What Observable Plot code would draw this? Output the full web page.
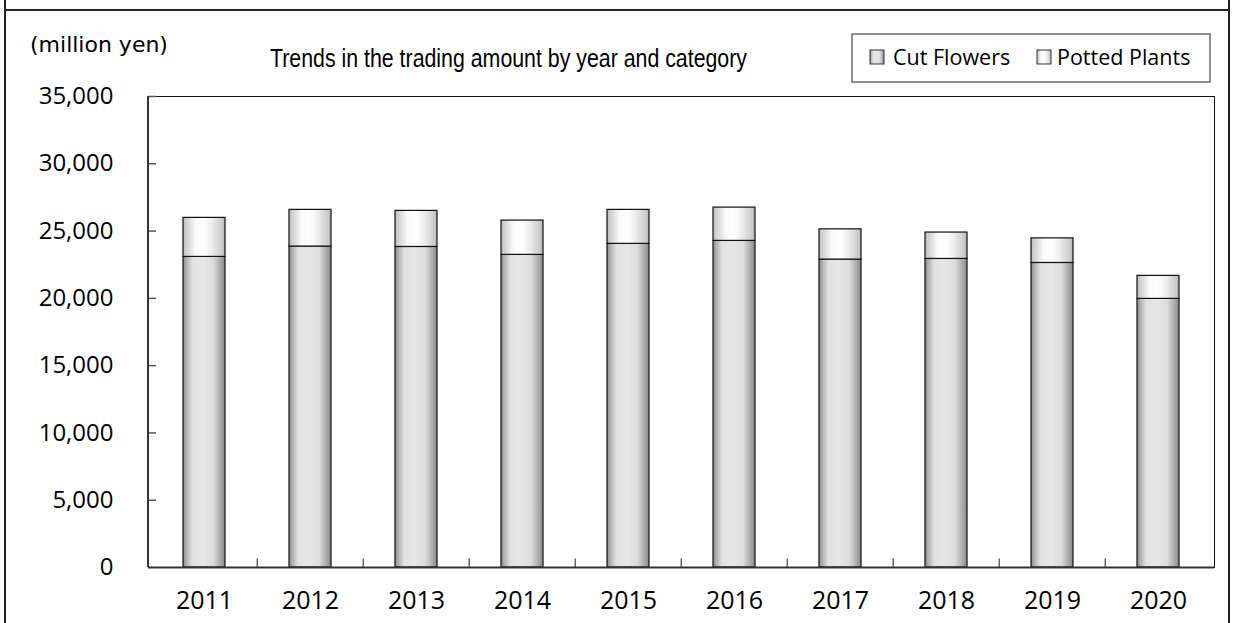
<!DOCTYPE html>
<html>
<head>
<meta charset="utf-8">
<script src="https://cdn.jsdelivr.net/npm/d3@7"></script>
<script src="https://cdn.jsdelivr.net/npm/@observablehq/plot@0.6"></script>
<style>
  html, body { margin: 0; padding: 0; background: #fff; }
  #chart { width: 1237px; height: 623px; overflow: hidden; }
</style>
</head>
<body>
<div id="chart"></div>
<script>
const years = ["2011","2012","2013","2014","2015","2016","2017","2018","2019","2020"];
const cutFlowers   = [23080, 23850, 23820, 23230, 24050, 24270, 22880, 22930, 22630, 19960];
const pottedPlants = [2900, 2725, 2680, 2550, 2525, 2475, 2250, 1960, 1830, 1710];
const categories = ["Cut Flowers", "Potted Plants"];
const yTicks = [0, 5000, 10000, 15000, 20000, 25000, 30000, 35000];
const titleText = "Trends in the trading amount by year and category";
const unitText = "(million yen)";

const data = [];
years.forEach((y, i) => {
  data.push({year: y, category: categories[0], value: cutFlowers[i]});
  data.push({year: y, category: categories[1], value: pottedPlants[i]});
});

const W = 1237, H = 623;
const mL = 148, mR = 23, mT = 96, mB = 56;
const innerW = W - mL - mR;
const step = innerW / years.length;

function defs() {
  const d = d3.create("svg:defs");
  const g1 = d.append("linearGradient").attr("id", "gCut").attr("x1", 0).attr("x2", 1).attr("y1", 0).attr("y2", 0);
  [[0, "#8a8a8a"], [0.08, "#b0b0b0"], [0.22, "#e2e2e2"], [0.5, "#e6e6e6"], [0.72, "#dcdcdc"], [0.9, "#a8a8a8"], [1, "#888888"]]
    .forEach(([o, c]) => g1.append("stop").attr("offset", o).attr("stop-color", c));
  const g2 = d.append("linearGradient").attr("id", "gPot").attr("x1", 0).attr("x2", 1).attr("y1", 0).attr("y2", 0);
  [[0, "#bdbdbd"], [0.12, "#d8d8d8"], [0.3, "#fafafa"], [0.5, "#ffffff"], [0.7, "#ececec"], [0.9, "#cfcfcf"], [1, "#b8b8b8"]]
    .forEach(([o, c]) => g2.append("stop").attr("offset", o).attr("stop-color", c));
  return d.node();
}

const plot = Plot.plot({
  width: W, height: H,
  marginLeft: mL, marginRight: mR, marginTop: mT, marginBottom: mB,
  style: {fontFamily: "'Open Sans', sans-serif", fontSize: "24px", color: "#000", background: "#fff"},
  x: {domain: years, paddingInner: 0.6, paddingOuter: 0.3, label: null},
  y: {domain: [0, 35000], label: null},
  color: {domain: categories, range: ["url(#gCut)", "url(#gPot)"]},
  marks: [
    defs,
    Plot.frame({stroke: "#111", strokeWidth: 1}),
    Plot.barY(data, Plot.stackY({x: "year", y: "value", z: "category", fill: "category", stroke: "#111", strokeWidth: 1.2, order: categories})),
    Plot.ruleY(yTicks.filter(v => v > 0), {stroke: "#555", strokeWidth: 1.5, insetRight: innerW - 8}),
    Plot.ruleX(years.slice(1), {y1: 0, y2: 640, dx: -step / 2, stroke: "#444", strokeWidth: 1.2}),
    Plot.ruleY([0], {stroke: "#333", strokeWidth: 2}),
    Plot.axisY({ticks: yTicks, tickSize: 0, tickPadding: 35, tickFormat: d3.format(","), fontSize: 24, label: null}),
    Plot.axisX({tickSize: 0, tickPadding: 24, fontSize: 25, label: null})
  ]
});

const svg = d3.select(plot);
// left axis line
svg.append("line").attr("x1", mL).attr("x2", mL).attr("y1", mT).attr("y2", H - mB).attr("stroke", "#333").attr("stroke-width", 2);
// outer frame
svg.append("line").attr("x1", 5).attr("x2", 5).attr("y1", 0).attr("y2", H).attr("stroke", "#222").attr("stroke-width", 2);
svg.append("line").attr("x1", 1229).attr("x2", 1229).attr("y1", 0).attr("y2", H).attr("stroke", "#222").attr("stroke-width", 2);
svg.append("line").attr("x1", 5).attr("x2", 1229).attr("y1", 10).attr("y2", 10).attr("stroke", "#222").attr("stroke-width", 2);

// unit label
svg.append("text").attr("x", 30).attr("y", 52).attr("text-anchor", "start")
  .attr("font-family", "'DejaVu Sans', sans-serif").attr("font-size", 22)
  .attr("fill", "#000").text(unitText);

// title
svg.append("text").attr("x", 270).attr("y", 67).attr("text-anchor", "start")
  .attr("font-family", "'Liberation Sans', Arial, sans-serif").attr("font-size", 25)
  .attr("textLength", 477).attr("lengthAdjust", "spacingAndGlyphs").attr("fill", "#000").text(titleText);

// legend
const lg = svg.append("g").attr("text-anchor", "start");
lg.append("rect").attr("x", 852).attr("y", 34).attr("width", 358).attr("height", 48)
  .attr("fill", "#fff").attr("stroke", "#555").attr("stroke-width", 1.3);
const items = [{x: 870, tx: 893, fill: "url(#gCut)"}, {x: 1037, tx: 1057, fill: "url(#gPot)"}];
items.forEach((it, i) => {
  lg.append("rect").attr("x", it.x).attr("y", 50).attr("width", 14).attr("height", 14)
    .attr("fill", it.fill).attr("stroke", "#333").attr("stroke-width", 1);
  lg.append("text").attr("x", it.tx).attr("y", 65).attr("text-anchor", "start")
    .attr("font-family", "'Open Sans', sans-serif").attr("font-size", 21.5)
    .attr("fill", "#000").text(categories[i]);
});

document.getElementById("chart").appendChild(plot);
</script>
</body>
</html>
